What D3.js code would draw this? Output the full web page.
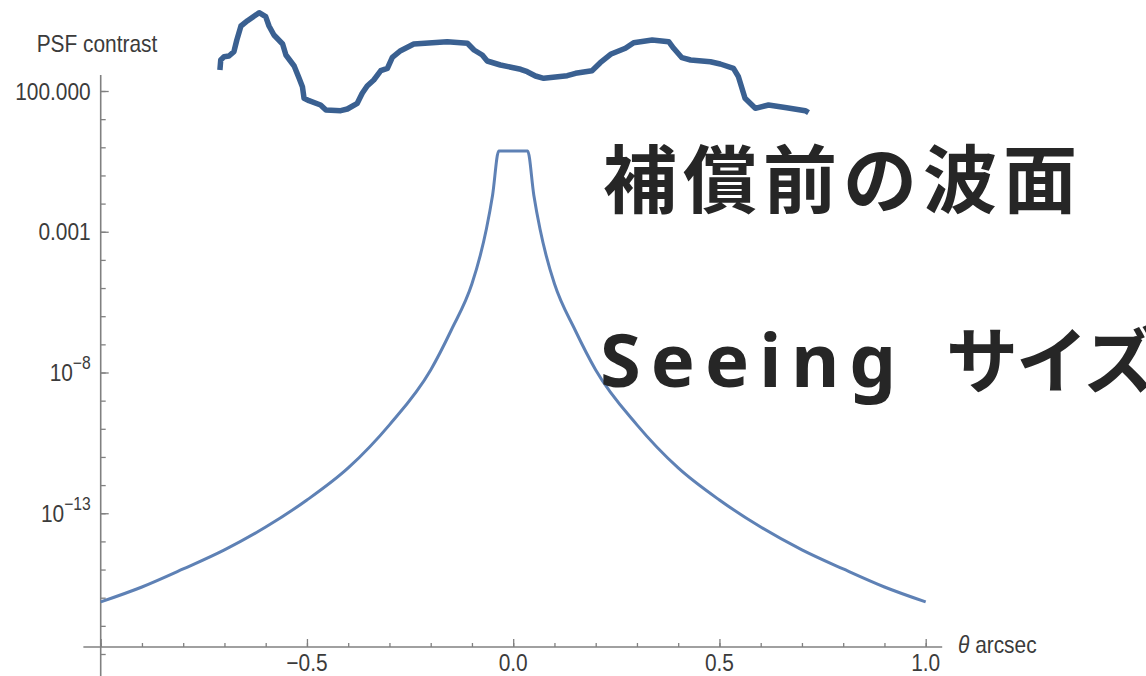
<!DOCTYPE html>
<html>
<head>
<meta charset="utf-8">
<script src="https://cdn.jsdelivr.net/npm/d3@7"></script>
<style>
  html, body { margin: 0; padding: 0; background: #fff; }
  svg { display: block; }
</style>
</head>
<body>
<svg id="chart" width="1146" height="676"></svg>
<script>
// PSF contrast profile: angle (arcsec) and log10 of contrast
const theta = [-1.0, -0.9, -0.8, -0.7, -0.6, -0.5, -0.4, -0.3, -0.2, -0.15, -0.1, -0.08, -0.065, -0.05, -0.035,
               0.035, 0.05, 0.065, 0.08, 0.1, 0.15, 0.2, 0.3, 0.4, 0.5, 0.6, 0.7, 0.8, 0.9, 1.0];
const contrastLog10 = [-16.15, -15.62, -14.98, -14.3, -13.49, -12.53, -11.39, -9.86, -7.91, -6.49, -4.85, -3.85, -2.9, -1.7, -0.13,
                       -0.13, -1.7, -2.9, -3.85, -4.85, -6.49, -7.91, -9.86, -11.39, -12.53, -13.49, -14.3, -14.98, -15.62, -16.15];

// Sketch of the uncompensated wavefront: position (arcsec) and relative height
const waveTheta = [-0.711, -0.709, -0.701, -0.689, -0.677, -0.670, -0.660, -0.644, -0.616, -0.600, -0.592, -0.580,
  -0.559, -0.551, -0.531, -0.519, -0.511, -0.507, -0.495, -0.467, -0.454, -0.418, -0.402, -0.378, -0.366, -0.354,
  -0.338, -0.321, -0.305, -0.293, -0.273, -0.241, -0.160, -0.111, -0.095, -0.075, -0.063, -0.031, 0.018, 0.034,
  0.054, 0.074, 0.131, 0.151, 0.191, 0.211, 0.236, 0.272, 0.292, 0.337, 0.377, 0.389, 0.409, 0.430, 0.478, 0.502,
  0.534, 0.546, 0.562, 0.587, 0.619, 0.663, 0.708, 0.716];
const waveHeight = [0.42, 0.52, 0.553, 0.56, 0.603, 0.72, 0.86, 0.913, 0.993, 0.953, 0.86, 0.77,
  0.68, 0.57, 0.46, 0.337, 0.253, 0.137, 0.113, 0.07, 0.02, 0.013, 0.03, 0.087, 0.187, 0.26,
  0.32, 0.413, 0.437, 0.547, 0.613, 0.68, 0.703, 0.687, 0.62, 0.57, 0.51, 0.47, 0.427, 0.403,
  0.36, 0.337, 0.363, 0.387, 0.413, 0.493, 0.577, 0.637, 0.693, 0.72, 0.703, 0.637, 0.543, 0.52, 0.503, 0.48,
  0.437, 0.353, 0.137, 0.037, 0.07, 0.043, 0.013, -0.007];

// Axis ticks
const xMinorTicks = d3.range(-10, 11).map(i => i / 10);
const xLabelTicks = [-0.5, 0.0, 0.5, 1.0];
const xTickLabels = ["\u22120.5", "0.0", "0.5", "1.0"];
const yMinorExps = d3.range(-18, 3);
const yLabelExps = [2, -3, -8, -13];
const yTickLabels = [
  { base: "100.000", sup: "" },
  { base: "0.001", sup: "" },
  { base: "10", sup: "\u22128" },
  { base: "10", sup: "\u221213" }
];

// Titles
const titleLine1 = "補償前の波面";
const titleLine2a = "Seeing";
const titleLine2b = "サイズ";
const yAxisTitle = "PSF contrast";
const xAxisTitle = "arcsec";

const svg = d3.select("#chart");

const pxPerDecade = 28.15;
const y2 = 91; // position of 10^2
const x = d3.scaleLinear().domain([-1, 1]).range([100.7, 925.7]);
const y = d3.scaleLog()
  .domain([Math.pow(10, 2 - (676 - y2) / pxPerDecade), Math.pow(10, 2 + (y2 - 75) / pxPerDecade)])
  .range([676, 75]);

const axisColor = "#808080";
const textColor = "#3b3b3b";
const xAxisY = 647;

// ---- y axis (ticks pointing into the plot) ----
const yAxisG = svg.append("g").attr("transform", `translate(${x(-1)},0)`);
yAxisG.append("g")
  .call(d3.axisRight(y).tickValues(yMinorExps.map(e => Math.pow(10, e))).tickSize(5).tickFormat(""))
  .call(g => g.select(".domain").remove());
yAxisG.append("g")
  .call(d3.axisRight(y).tickValues(yLabelExps.map(e => Math.pow(10, e))).tickSize(8).tickFormat(""))
  .call(g => g.select(".domain").remove());
yAxisG.selectAll("line").attr("stroke", axisColor).attr("stroke-width", 1.3);
yAxisG.append("line").attr("x1", 0).attr("x2", 0).attr("y1", y.range()[1]).attr("y2", y.range()[0])
  .attr("stroke", axisColor).attr("stroke-width", 1.6);

// ---- x axis (ticks pointing up) ----
const xAxisG = svg.append("g").attr("transform", `translate(0,${xAxisY})`);
xAxisG.append("g")
  .call(d3.axisTop(x).tickValues(xMinorTicks).tickSize(4).tickFormat(""))
  .call(g => g.select(".domain").remove());
xAxisG.append("g")
  .call(d3.axisTop(x).tickValues(xLabelTicks.concat([-1])).tickSize(8).tickFormat(""))
  .call(g => g.select(".domain").remove());
xAxisG.selectAll("line").attr("stroke", axisColor).attr("stroke-width", 1.3);
xAxisG.append("line").attr("x1", x(-1.042)).attr("x2", x(1.04)).attr("y1", 0).attr("y2", 0)
  .attr("stroke", axisColor).attr("stroke-width", 1.6);

// Helper: slightly condensed label text
function label(g, tx, ty, anchor) {
  return g.append("text")
    .attr("transform", `translate(${tx},${ty}) scale(0.87,1)`)
    .attr("text-anchor", anchor)
    .attr("font-family", "Liberation Sans, Arial, sans-serif")
    .attr("font-size", 24)
    .attr("fill", textColor);
}

// y tick labels
yLabelExps.forEach((e, i) => {
  const t = yTickLabels[i];
  const txt = label(svg, x(-1) - 10, y(Math.pow(10, e)) + 8.5, "end");
  txt.append("tspan").text(t.base);
  if (t.sup) {
    txt.append("tspan").attr("dy", -12).attr("font-size", 18).text(t.sup);
  }
});

// x tick labels
xLabelTicks.forEach((v, i) => {
  label(svg, x(v), 671, "middle").text(xTickLabels[i]);
});

// axis titles
label(svg, 97, 52, "middle").text(yAxisTitle);
const xt = label(svg, 958, 653, "start");
xt.append("tspan").attr("font-style", "italic").text("\u03b8");
xt.append("tspan").text(" " + xAxisTitle);

// ---- PSF curve ----
const psf = theta.map((t, i) => ({ t, v: Math.pow(10, contrastLog10[i]) }));
svg.append("path")
  .datum(psf)
  .attr("fill", "none")
  .attr("stroke", "#5e81b5")
  .attr("stroke-width", 3)
  .attr("stroke-linejoin", "round")
  .attr("d", d3.line().x(d => x(d.t)).y(d => y(d.v)).curve(d3.curveMonotoneX));

// ---- wavefront sketch ----
const waveY = d3.scaleLinear().domain([0, 1]).range([112, 12]);
const wave = waveTheta.map((t, i) => ({ t, h: waveHeight[i] }));
svg.append("path")
  .datum(wave)
  .attr("fill", "none")
  .attr("stroke", "#3a6091")
  .attr("stroke-width", 5.5)
  .attr("stroke-linejoin", "round")
  .attr("d", d3.line().x(d => x(d.t)).y(d => waveY(d.h)));

// ---- annotation text ----
svg.append("text")
  .attr("x", 603).attr("y", 207)
  .attr("font-family", "'Noto Sans CJK JP', sans-serif")
  .attr("font-weight", 700)
  .attr("font-size", 74)
  .attr("letter-spacing", 6)
  .attr("fill", "#262626")
  .text(titleLine1);
const t2 = svg.append("text")
  .attr("y", 387)
  .attr("font-family", "'Noto Sans', 'Noto Sans CJK JP', sans-serif")
  .attr("font-weight", 700)
  .attr("font-size", 74)
  .attr("fill", "#262626");
t2.append("tspan").attr("x", 600).attr("letter-spacing", 10).text(titleLine2a);
t2.append("tspan").attr("x", 946).attr("letter-spacing", -2)
  .attr("font-family", "'Noto Sans CJK JP', sans-serif").attr("font-size", 72).text(titleLine2b);
</script>
</body>
</html>
